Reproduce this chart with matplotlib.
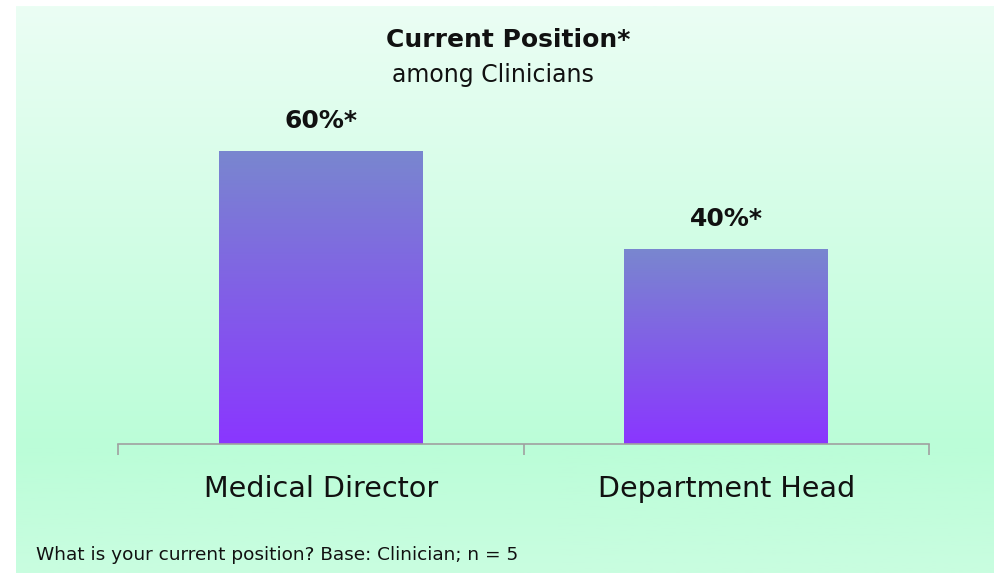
import matplotlib
matplotlib.use("Agg")
import matplotlib.pyplot as plt
from matplotlib.colors import LinearSegmentedColormap
from matplotlib.patches import Rectangle
import numpy as np

categories = ["Medical Director", "Department Head"]
values = [60, 40]
value_labels = ["60%*", "40%*"]
title = "Current Position*"
subtitle = "among Clinicians"
footnote = "What is your current position? Base: Clinician; n = 5"

W, H = 994, 573
plt.rcParams['font.family'] = ['DejaVu Sans']

fig = plt.figure(figsize=(W / 100, H / 100), dpi=100)
fig.patch.set_facecolor('white')

# background panel with soft vertical gradient
bg = fig.add_axes([16 / W, 0, 1 - 16 / W, 1 - 6 / H])
bg_cmap = LinearSegmentedColormap.from_list(
    'bg', [(0.0, '#ebfef4'), (0.78, '#bbfdd8'), (1.0, '#c9fde0')])
grad = np.linspace(0, 1, 256).reshape(-1, 1)
bg.imshow(grad, aspect='auto', cmap=bg_cmap, extent=[0, 1, 1, 0])
bg.set_axis_off()

# plot axes in pixel terms: x 118..929, y 102..444
ax = fig.add_axes([118 / W, (H - 444) / H, (929 - 118) / W, (444 - 102) / H])
ax.set_facecolor('none')

bar_cmap = LinearSegmentedColormap.from_list('bar', ['#7987cf', '#8a36ff'])
x = np.arange(len(categories))
width = 0.503
bars = ax.bar(x, values, width=width, color='none')
for b in bars:
    x0, y0 = b.get_x(), b.get_y()
    w, h = b.get_width(), b.get_height()
    im = ax.imshow(grad, aspect='auto', cmap=bar_cmap,
                   extent=[x0, x0 + w, y0, y0 + h], origin='upper', zorder=2)
    clip = Rectangle((x0, y0), w, h, transform=ax.transData, facecolor='none', edgecolor='none')
    ax.add_patch(clip)
    im.set_clip_path(clip)
ax.set_xlim(-0.5, 1.5)
ax.set_ylim(0, 70)

for xi, v, lab in zip(x, values, value_labels):
    ax.text(xi, v + 3.6, lab, ha='center', va='bottom', fontsize=18,
            fontweight='bold', color='#111111')

for s in ['top', 'right', 'left']:
    ax.spines[s].set_visible(False)
ax.spines['bottom'].set_color('#a0a0a0')
ax.spines['bottom'].set_linewidth(1.2)
ax.set_yticks([])
ax.set_xticks([-0.5, 0.5, 1.5])
ax.set_xticklabels([])
ax.tick_params(axis='x', length=8, color='#a0a0a0', width=1.2)
for xi, c in zip(x, categories):
    ax.text(xi, -9.2, c, ha='center', va='center', fontsize=20.6, color='#111111')

fig.text(508 / W, 1 - 40 / H, title, ha='center', va='center',
         fontsize=18, fontweight='bold', color='#111111')
fig.text(493 / W, 1 - 75 / H, subtitle, ha='center', va='center',
         fontsize=17, color='#111111')
fig.text(36 / W, 1 - 555 / H, footnote, ha='left', va='center',
         fontsize=13.3, color='#111111')

fig.savefig('out.png', dpi=100)
